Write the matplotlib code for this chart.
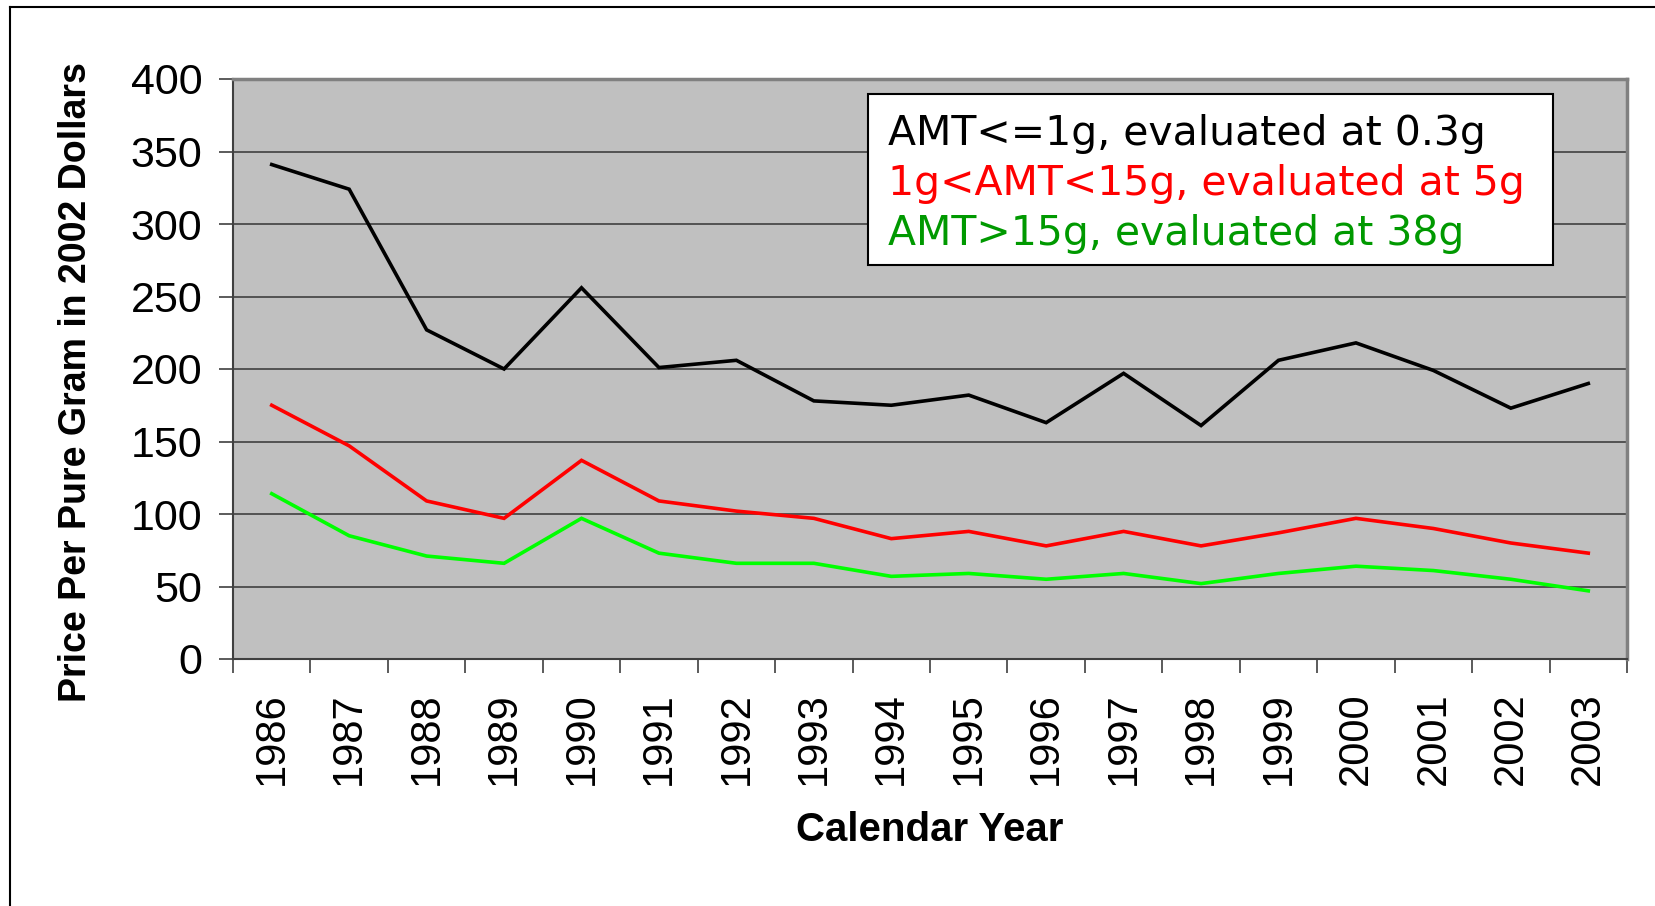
import matplotlib
matplotlib.use('Agg')
import matplotlib.pyplot as plt
from matplotlib.lines import Line2D
from matplotlib.patches import Rectangle
import numpy as np

plt.rcParams['font.family'] = ['Liberation Sans', 'DejaVu Sans']

years = [str(y) for y in range(1986, 2004)]

# price per pure gram, 2002 dollars
small = [341, 324, 227, 200, 256, 201, 206, 178, 175, 182, 163, 197, 161, 206, 218, 199, 173, 190]
medium = [175, 147, 109, 97, 137, 109, 102, 97, 83, 88, 78, 88, 78, 87, 97, 90, 80, 73]
large = [114, 85, 71, 66, 97, 73, 66, 66, 57, 59, 55, 59, 52, 59, 64, 61, 55, 47]

labels = ['AMT<=1g, evaluated at 0.3g',
          '1g<AMT<15g, evaluated at 5g',
          'AMT>15g, evaluated at 38g']
line_colors = ['black', '#ff0000', '#00ff00']
text_colors = ['black', '#ff0000', '#009900']

W, H = 1655, 906
fig = plt.figure(figsize=(W/100, H/100), dpi=100)
ax = fig.add_axes([233/W, 1 - 659/H, (1627-233)/W, (659-79)/H])
ax.set_facecolor('#c0c0c0')

x = np.arange(len(years))
for vals, c, lab in zip([small, medium, large], line_colors, labels):
    ax.plot(x, vals, color=c, lw=2.6, label=lab, solid_joinstyle='miter')

ax.set_xlim(-0.5, len(years) - 0.5)
ax.set_ylim(0, 400)
ax.set_yticks(np.arange(0, 401, 50))
ax.yaxis.grid(True, color='#404040', lw=1.2)
ax.set_axisbelow(True)

# category ticks sit between the years
ax.set_xticks(np.arange(-0.5, len(years)), minor=False)
ax.set_xticklabels([])
ax.set_xticks(x, minor=True)
ax.set_xticklabels(years, minor=True, rotation=90, fontsize=30)
ax.tick_params(axis='x', which='minor', length=0, pad=24)
ax.tick_params(axis='x', which='major', length=10, width=1.2, color='#404040')
ax.tick_params(axis='y', length=10, width=1.2, color='#404040', labelsize=31, pad=12)

for s in ['left', 'bottom']:
    ax.spines[s].set_color('#404040')
    ax.spines[s].set_linewidth(1.5)
for s in ['top', 'right']:
    ax.spines[s].set_color('#808080')
    ax.spines[s].set_linewidth(2.5)

ax.set_ylabel('Price Per Pure Gram in 2002 Dollars', fontsize=27, fontweight='bold')
ax.yaxis.set_label_coords(-0.100, 0.478)
ax.set_xlabel('Calendar Year', fontsize=29, fontweight='bold')
ax.xaxis.set_label_coords(0.5, -0.262)

# legend box: coloured text only, no line samples
box = Rectangle((868/W, 1 - 265/H), (1553-868)/W, (265-94)/H, transform=fig.transFigure,
                facecolor='white', edgecolor='black', lw=1.5, zorder=5)
fig.add_artist(box)
for i, (lab, c) in enumerate(zip(labels, text_colors)):
    fig.text(888/W, 1 - (145 + 50*i)/H, lab, color=c, fontsize=29.5,
             family='DejaVu Sans', va='baseline', ha='left', zorder=6)

# outer chart frame (only top and left edges are inside the picture)
fig.add_artist(Line2D([10/W, 1], [1 - 7/H, 1 - 7/H], color='black', lw=1.5))
fig.add_artist(Line2D([10/W, 10/W], [0, 1 - 7/H], color='black', lw=1.5))

fig.savefig('out.png', dpi=100)
